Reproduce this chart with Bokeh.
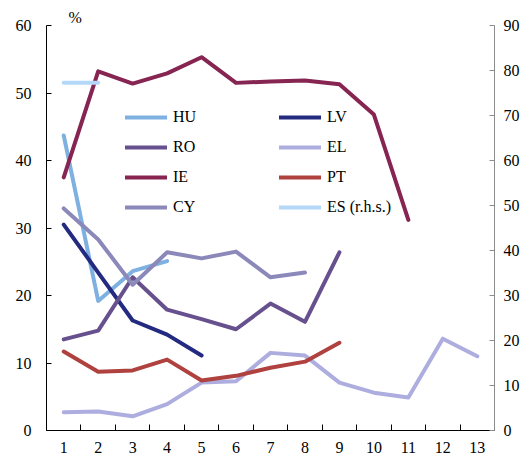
from bokeh.plotting import figure
from bokeh.models import Range1d, LinearAxis, FixedTicker, Legend, LegendItem
from bokeh.embed import file_html
from bokeh.resources import INLINE

# ---- data ----
periods = list(range(1, 14))
tick_labels = [str(i) for i in periods]

HU = [43.7, 19.2, 23.6, 25.1]
LV = [30.5, 23.4, 16.3, 14.2, 11.1]
RO = [13.5, 14.8, 22.7, 17.9, 16.5, 15.0, 18.8, 16.1, 26.4]
EL = [2.7, 2.8, 2.1, 3.9, 7.1, 7.3, 11.5, 11.1, 7.1, 5.6, 4.9, 13.6, 11.0]
IE = [37.5, 53.2, 51.4, 52.9, 55.3, 51.5, 51.7, 51.85, 51.3, 46.8, 31.2]
PT = [11.7, 8.7, 8.9, 10.5, 7.4, 8.1, 9.3, 10.2, 13.0]
CY = [32.9, 28.3, 21.6, 26.4, 25.5, 26.5, 22.7, 23.4]
ES_rhs = [77.3, 77.3]

left_ticks = [0, 10, 20, 30, 40, 50, 60]
right_ticks = [0, 10, 20, 30, 40, 50, 60, 70, 80, 90]

FONT = "Liberation Serif"
FS = "16px"

p = figure(width=522, height=459, output_backend="svg", toolbar_location=None,
           x_range=Range1d(0.5, 13.5), y_range=Range1d(0, 60),
           min_border_left=46, min_border_right=26, min_border_top=25, min_border_bottom=29)
p.extra_y_ranges = {"rhs": Range1d(0, 90)}
p.grid.visible = False
p.outline_line_color = None
p.background_fill_color = "white"
p.border_fill_color = "white"

# "%" unit title
p.title.text = "%"
p.title.align = "left"
p.title.offset = 22
p.title.standoff = 0
p.title.text_font = FONT
p.title.text_font_size = FS
p.title.text_font_style = "normal"
p.title.text_color = "black"

# x axis
xa = p.xaxis[0]
xa.ticker = FixedTicker(ticks=periods, minor_ticks=[i + 0.5 for i in range(0, 14)])
xa.major_label_overrides = {i: s for i, s in zip(periods, tick_labels)}
xa.major_tick_in = 0
xa.major_tick_out = 0
xa.minor_tick_in = 6
xa.minor_tick_out = 0
xa.minor_tick_line_color = "black"
xa.axis_line_color = "black"
xa.major_label_standoff = 11
xa.major_label_text_font = FONT
xa.major_label_text_font_size = FS
xa.major_label_text_color = "black"

# left axis
ya = p.yaxis[0]
ya.ticker = FixedTicker(ticks=left_ticks)
ya.major_tick_in = 5
ya.major_tick_out = 0
ya.minor_tick_line_color = None
ya.axis_line_color = "black"
ya.major_tick_line_color = "black"
ya.major_label_standoff = 15
ya.major_label_text_font = FONT
ya.major_label_text_font_size = FS
ya.major_label_text_color = "black"

# right axis
ra = LinearAxis(y_range_name="rhs", ticker=FixedTicker(ticks=right_ticks))
ra.major_tick_in = 5
ra.major_tick_out = 0
ra.minor_tick_line_color = None
ra.axis_line_color = "#8c8c8c"
ra.major_tick_line_color = "#8c8c8c"
ra.major_label_standoff = 9
ra.major_label_text_font = FONT
ra.major_label_text_font_size = FS
ra.major_label_text_color = "black"
p.add_layout(ra, "right")

series = [
    ("HU", HU, "#7EB1E1", "default"),
    ("LV", LV, "#232A80", "default"),
    ("RO", RO, "#66508D", "default"),
    ("EL", EL, "#ADADDF", "default"),
    ("IE", IE, "#862452", "default"),
    ("PT", PT, "#AF423F", "default"),
    ("CY", CY, "#8B88BA", "default"),
    ("ES (r.h.s.)", ES_rhs, "#B4D8F7", "rhs"),
]

renderers = {}
for name, vals, col, rng in series:
    xs = periods[:len(vals)]
    r = p.line(xs, vals, line_color=col, line_width=4, line_cap="round",
               line_join="round", y_range_name=rng)
    renderers[name] = r

def make_legend(names, loc):
    lg = Legend(items=[LegendItem(label=n, renderers=[renderers[n]]) for n in names],
                location=loc, orientation="vertical")
    lg.background_fill_alpha = 0
    lg.border_line_color = None
    lg.padding = 0
    lg.margin = 0
    lg.spacing = 10
    lg.glyph_width = 42
    lg.glyph_height = 20
    lg.label_height = 20
    lg.label_standoff = 6
    lg.label_text_font = FONT
    lg.label_text_font_size = FS
    lg.label_text_color = "black"
    return lg

p.add_layout(make_legend(["HU", "RO", "IE", "CY"], (79, 213)), "center")
p.add_layout(make_legend(["LV", "EL", "PT", "ES (r.h.s.)"], (233, 213)), "center")

open("out.html", "w").write(file_html(p, INLINE))
